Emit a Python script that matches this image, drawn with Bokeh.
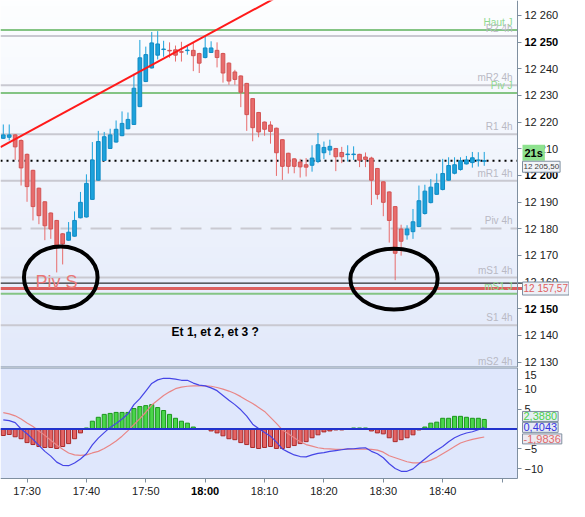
import numpy as np
from bokeh.plotting import figure
from bokeh.layouts import column
from bokeh.models import ColumnDataSource, FixedTicker, Label, Range1d
from bokeh.embed import file_html
from bokeh.resources import INLINE
from bokeh.core.properties import value

# ---------------- data ----------------
minutes = list(range(-4, 78))  # minutes after 17:30 (1-minute candles)
opens = [12213.9, 12214.3, 12215.2, 12213.1, 12207.9, 12201.9, 12195.2, 12190.1, 12185.9, 12183.1,
         12178.1, 12175.7, 12177.2, 12184.1, 12184.4, 12191.0, 12198.2, 12205.6, 12210.1, 12212.5,
         12214.9, 12217.5, 12219.1, 12225.8, 12235.2, 12240.3, 12245.1, 12247.2, 12246.9, 12247.1,
         12246.4, 12246.8, 12246.9, 12245.7, 12244.2, 12246.1, 12246.9, 12245.7, 12242.1, 12238.8,
         12237.3, 12234.5, 12228.8, 12223.6, 12220.0, 12218.9, 12217.7, 12213.4, 12208.3, 12206.2,
         12205.0, 12204.0, 12203.8, 12205.2, 12208.5, 12209.5, 12210.1, 12208.6, 12207.8, 12207.8,
         12207.9, 12206.9, 12206.5, 12202.6, 12197.6, 12193.8, 12188.3, 12179.9, 12177.7, 12178.9,
         12180.8, 12185.7, 12189.8, 12192.9, 12194.7, 12198.2, 12200.8, 12202.2, 12204.3, 12204.8,
         12205.5, 12205.3]
highs = [12219.1, 12219.1, 12215.5, 12213.5, 12208.2, 12202.1, 12195.4, 12190.3, 12186.1, 12183.3,
         12178.4, 12182.5, 12186.5, 12193.8, 12200.4, 12212.5, 12216.7, 12216.3, 12217.5, 12220.6,
         12224.0, 12223.6, 12238.1, 12250.8, 12248.3, 12253.8, 12254.1, 12250.5, 12249.9, 12248.7,
         12250.1, 12248.7, 12249.9, 12246.0, 12252.1, 12250.3, 12249.9, 12246.0, 12242.4, 12239.6,
         12237.5, 12234.7, 12229.0, 12223.8, 12220.2, 12220.3, 12217.9, 12213.6, 12208.5, 12206.4,
         12206.2, 12206.5, 12211.3, 12215.9, 12212.7, 12213.4, 12210.3, 12210.7, 12211.3, 12210.9,
         12208.1, 12208.6, 12207.0, 12202.8, 12197.8, 12194.0, 12188.5, 12181.5, 12181.3, 12187.4,
         12196.2, 12196.5, 12198.6, 12200.7, 12206.2, 12206.8, 12206.8, 12206.8, 12207.3, 12208.8,
         12208.7, 12208.8]
lows = [12213.7, 12213.1, 12205.8, 12196.2, 12190.1, 12183.1, 12181.7, 12175.7, 12176.2, 12163.6,
        12166.6, 12175.5, 12177.0, 12183.9, 12184.2, 12190.8, 12198.0, 12205.4, 12209.9, 12212.3,
        12214.7, 12217.3, 12218.9, 12225.6, 12235.0, 12240.1, 12243.5, 12244.5, 12244.1, 12242.7,
        12242.7, 12245.3, 12239.1, 12238.4, 12243.9, 12245.9, 12240.5, 12234.8, 12234.0, 12234.0,
        12225.6, 12216.7, 12212.8, 12214.3, 12214.9, 12211.9, 12199.8, 12198.3, 12200.7, 12200.8,
        12199.2, 12199.6, 12201.4, 12204.6, 12206.1, 12207.6, 12201.6, 12204.6, 12205.2, 12205.8,
        12203.1, 12203.1, 12188.9, 12191.0, 12184.7, 12174.8, 12160.7, 12169.9, 12175.9, 12176.2,
        12180.6, 12185.3, 12189.5, 12192.7, 12194.4, 12198.0, 12200.4, 12201.8, 12204.1, 12202.9,
        12203.3, 12203.6]
closes = [12215.2, 12215.2, 12210.7, 12202.8, 12195.8, 12188.3, 12184.9, 12181.1, 12179.9, 12173.8,
          12174.3, 12178.7, 12183.1, 12189.9, 12197.0, 12205.8, 12212.7, 12214.5, 12215.2, 12217.3,
          12219.5, 12221.0, 12232.7, 12244.1, 12245.3, 12249.7, 12249.3, 12247.4, 12246.7, 12245.1,
          12246.2, 12247.0, 12244.9, 12242.1, 12247.8, 12247.8, 12244.2, 12238.4, 12235.4, 12236.0,
          12231.2, 12222.8, 12217.9, 12216.3, 12217.3, 12216.5, 12208.5, 12203.4, 12203.4, 12203.4,
          12203.2, 12203.1, 12206.5, 12211.5, 12210.5, 12210.9, 12207.0, 12207.0, 12208.0, 12208.0,
          12205.7, 12206.0, 12198.2, 12192.9, 12189.9, 12183.1, 12170.8, 12175.3, 12179.9, 12182.6,
          12190.5, 12194.1, 12195.6, 12197.0, 12200.7, 12203.7, 12204.0, 12205.5, 12205.8, 12206.6,
          12205.8, 12205.5]

hist = [-1.63, -1.38, -1.95, -2.44, -3.41, -3.90, -4.39, -4.63, -4.63, -4.88,
        -4.39, -3.66, -2.44, -0.98, 0.24, 1.95, 2.93, 3.66, 3.90, 4.15,
        4.15, 4.15, 5.12, 5.61, 5.85, 6.10, 5.37, 4.63, 3.66, 2.68,
        1.95, 1.46, 0.49, 0.0, 0.0, -0.49, -0.98, -1.71, -2.44, -2.68,
        -3.41, -3.90, -4.63, -4.88, -4.63, -4.39, -4.88, -4.88, -4.63, -4.15,
        -3.66, -3.17, -2.20, -1.46, -0.73, -0.49, -0.24, -0.24, 0.0, 0.24,
        0.24, 0.24, -0.49, -0.98, -1.22, -2.20, -3.17, -2.68, -2.20, -1.46,
        -0.24, 0.49, 1.46, 1.71, 2.68, 2.68, 3.17, 3.17, 2.93, 2.68,
        2.68, 2.39]
macd = [2.3, 2.1, 1.6, 0.0, -1.2, -2.6, -4.1, -5.6, -6.8, -8.3,
        -9.1, -9.2, -8.5, -7.5, -6.2, -4.0, -2.3, -0.9, 0.4, 1.4,
        2.5, 3.8, 6.1, 7.6, 9.5, 11.4, 12.3, 12.7, 12.7, 12.5,
        12.2, 12.2, 11.5, 11.0, 10.8, 10.3, 9.6, 8.4, 7.2, 6.1,
        4.8, 3.2, 1.2, 0.1, -0.9, -1.8, -3.3, -5.0, -5.8, -6.5,
        -6.9, -7.0, -6.5, -6.1, -5.9, -5.6, -5.4, -5.2, -5.0, -4.95,
        -4.8, -4.7, -5.6, -6.2, -7.2, -8.7, -9.9, -10.6, -10.6, -10.0,
        -8.7, -7.5, -6.3, -5.3, -4.4, -3.2, -2.2, -1.5, -1.0, -0.7,
        -0.2, 0.4]
signal = [4.1, 3.8, 3.3, 2.5, 1.5, 0.6, -0.5, -1.6, -2.8, -4.0,
          -5.1, -6.0, -6.5, -6.6, -6.5, -6.0, -5.6, -4.9, -4.0, -3.0,
          -1.8, -0.4, 1.1, 2.6, 4.2, 6.0, 7.2, 8.4, 9.3, 10.1,
          10.5, 10.7, 10.8, 10.8, 10.8, 10.7, 10.4, 10.0, 9.5, 8.9,
          8.1, 7.2, 6.4, 5.4, 4.4, 2.9, 1.4, -0.2, -1.2, -2.2,
          -3.2, -3.9, -4.3, -4.7, -4.9, -5.0, -5.1, -5.1, -5.05, -5.05,
          -5.05, -5.05, -5.1, -5.3, -5.8, -6.7, -7.2, -7.7, -8.2, -8.5,
          -8.5, -8.3, -7.8, -7.1, -6.2, -5.3, -4.4, -3.5, -3.0, -2.6,
          -2.3, -2.0]

price_ticks = [12130, 12140, 12150, 12160, 12170, 12180, 12190, 12200, 12210,
               12220, 12230, 12240, 12250, 12260]
bold_price_ticks = [12150, 12200, 12250]
time_ticks = [0, 10, 20, 30, 40, 50, 60, 70, 80]
time_labels = ["17:30", "17:40", "17:50", "18:00", "18:10", "18:20", "18:30", "18:40", ""]
bold_time_ticks = [30]
macd_ticks = [10, 5, -5, -10]
macd_top_label = 15

level_names = ["Haut J", "R2 4h", "mR2 4h", "Piv J", "R1 4h", "mR1 4h", "Piv 4h",
               "mS1 4h", "mS1 J", "S1 4h", "mS2 4h"]
level_values = [12254.5, 12252.3, 12233.8, 12230.9, 12215.4, 12198.0, 12180.1,
                12161.7, 12155.6, 12143.8, 12127.2]
level_is_daily = [True, False, False, True, False, False, False, False, True, False, False]
level_dashed = [False, False, False, False, False, False, True, False, False, False, False]

last_price = 12205.5
red_level = 12157.57
black_level = 12159.6
trend_x = [-4.47, 45.0]
trend_y = [12210.6, 12270.4]
circle_x = [5.68, 61.8]
circle_y = [12161.75, 12161.1]
circle_w = [12.4, 14.7]
circle_h = [23.2, 22.8]
note_piv_x, note_piv_y = 1.42, 12159.9
note_q_x, note_q_y = 31.7, 12141.3
hist_value, macd_value, signal_value = 2.3880, 0.4043, -1.9836

# ---------------- layout ----------------
W, H_P, H_M = 569, 367, 133
X0, X1 = -4.47, 82.6            # plotting area (frame of the original chart)
PXM = 517 / (X1 - X0)           # pixels per minute
XR = X0 + W / PXM               # includes the right scale area
Y0, Y1 = 12127.95, 12265.6
M0, M1 = -12.4, 15.4
PXU = 111 / (M1 - M0)
MB = M0 - 22 / PXU              # includes the time scale area
FONT = "Liberation Sans"
AXC = "#7f8fa0"
DX = 1 / PXM                    # one pixel in minutes

p = figure(width=W, height=H_P, x_range=Range1d(X0, XR), y_range=Range1d(Y0, Y1),
           output_backend="svg", toolbar_location=None, x_axis_location=None,
           y_axis_location="right", min_border=0, background_fill_color="#ffffff")
p.outline_line_color = None
p.grid.visible = False

# vertical background gradient of the price pane
n = 64
img = np.empty((n, 1), dtype=np.uint32)
view = img.view(dtype=np.uint8).reshape((n, 1, 4))
frac = np.linspace(0, 1, n)[:, None]
c_bot = np.array([226, 233, 250.0])
c_top = np.array([253, 254, 255.0])
view[:, 0, :3] = (c_bot + (c_top - c_bot) * frac).astype(np.uint8)
view[:, 0, 3] = 255
p.image_rgba(image=[img], x=X0, y=Y0, dw=X1 - X0, dh=Y1 - Y0, level="image")

# level lines
for name, v, daily, dashed in zip(level_names, level_values, level_is_daily, level_dashed):
    col = "#84c484" if daily else "#c9c9d1"
    p.segment(x0=[X0], y0=[v], x1=[X1], y1=[v], line_color=col, line_width=2,
              line_dash="21 9" if dashed else "solid")
p.segment(x0=[X0], y0=[black_level], x1=[X1 + 5 * DX], y1=[black_level],
          line_color="#000000", line_width=1)
p.segment(x0=[X0], y0=[red_level], x1=[X1 + 5 * DX], y1=[red_level],
          line_color="#dc5f5f", line_width=3)
p.segment(x0=[X0], y0=[last_price], x1=[X1], y1=[last_price],
          line_color="#000000", line_width=2, line_dash="2 4")
p.segment(x0=[X0], y0=[Y0], x1=[X1], y1=[Y0], line_color=AXC, line_width=2)

lab_src = ColumnDataSource(dict(
    x=[X1 - 5 * DX] * len(level_names), y=level_values, text=level_names,
    color=["#8fd88f" if d else "#b9b9c4" for d in level_is_daily]))
p.text(x="x", y="y", text="text", source=lab_src, text_color="color",
       text_font=value(FONT), text_font_size="10px", text_align="right",
       text_baseline="bottom", y_offset=-2)

p.text(x=[note_piv_x], y=[note_piv_y], text=["Piv S"], text_color="#e87878",
       text_font=value(FONT), text_font_size="18px", text_align="left",
       text_baseline="alphabetic")

# candles
up = [c >= o for o, c in zip(opens, closes)]
src = ColumnDataSource(dict(
    m=minutes, h=highs, l=lows,
    top=[max(o, c) for o, c in zip(opens, closes)],
    bottom=[min(o, c) for o, c in zip(opens, closes)],
    fill=["#1ca2dc" if u else "#e86c6c" for u in up],
    line=["#128bc4" if u else "#d25454" for u in up]))
p.segment(x0="m", y0="l", x1="m", y1="h", line_color="fill", line_width=1, source=src)
p.vbar(x="m", width=0.62, top="top", bottom="bottom", fill_color="fill",
       line_color="line", line_width=1, source=src)

p.line(trend_x, trend_y, line_color="#ff1a1a", line_width=2)
p.ellipse(x=circle_x, y=circle_y, width=circle_w, height=circle_h,
          fill_color=None, line_color="#000000", line_width=4)
p.text(x=[note_q_x], y=[note_q_y], text=["Et 1, et 2, et 3 ?"], text_color="#000000",
       text_font=value(FONT), text_font_size="12px", text_font_style="bold",
       text_align="center", text_baseline="middle")

# price scale (axis drawn at the right edge of the chart pane)
ya = p.yaxis[0]
ya.fixed_location = X1
ya.bounds = (Y0, Y1)
ya.ticker = FixedTicker(ticks=price_ticks)
ya.major_label_overrides = {t: ("" if t in bold_price_ticks else
                                f"{t // 1000} {t % 1000:03d}") for t in price_ticks}
ya.axis_line_color = AXC
ya.major_tick_line_color = AXC
ya.major_tick_out = 4
ya.major_tick_in = 0
ya.minor_tick_line_color = None
ya.major_label_standoff = 3
ya.major_label_text_font = FONT
ya.major_label_text_font_size = "11px"
ya.major_label_text_color = "#202020"

for t in bold_price_ticks:
    p.add_layout(Label(x=X1, y=t, x_offset=7, text=f"{t // 1000} {t % 1000:03d}",
                       text_font=FONT, text_font_size="11px", text_font_style="bold",
                       text_color="#000000", text_align="left", text_baseline="middle"))

p.add_layout(Label(x=X1, y=last_price, x_offset=5, y_offset=8, text="21s",
                   text_font=FONT, text_font_size="11px", text_font_style="bold",
                   text_color="#000000", text_align="left", text_baseline="middle",
                   background_fill_color="#8ee28e", padding=2))
p.add_layout(Label(x=X1, y=last_price, x_offset=5, y_offset=-6, text="12 205,50",
                   text_font=FONT, text_font_size="8px", text_color="#404040",
                   text_align="left", text_baseline="middle",
                   background_fill_color="#f2f4f8", border_line_color=AXC, padding=1))
p.add_layout(Label(x=X1, y=red_level, x_offset=5, text="12 157,57",
                   text_font=FONT, text_font_size="10px", text_color="#e06060",
                   text_align="left", text_baseline="middle",
                   background_fill_color="#eef1f7", border_line_color=AXC, padding=1))

# ---------------- MACD pane ----------------
q = figure(width=W, height=H_M, x_range=p.x_range, y_range=Range1d(MB, M1),
           output_backend="svg", toolbar_location=None, y_axis_location="right",
           min_border=0, background_fill_color="#ffffff")
q.outline_line_color = None
q.grid.visible = False

q.quad(left=[X0], right=[X1], bottom=[M0], top=[M1], fill_color="#dfe7fc",
       line_color=None, level="image")

hsrc = ColumnDataSource(dict(
    m=minutes, h=hist,
    fill=["#4ad64a" if v > 0 else "#e46464" for v in hist],
    line=["#1a961a" if v > 0 else "#a82a2a" for v in hist]))
q.vbar(x="m", width=0.68, top="h", bottom=0, fill_color="fill", line_color="line",
       line_width=1, source=hsrc)
q.line(minutes, signal, line_color="#e98686", line_width=1.2)
q.line(minutes, macd, line_color="#4545e6", line_width=1.2)
q.segment(x0=[X0], y0=[0], x1=[X1], y1=[0], line_color="#2233cc", line_width=2)
q.segment(x0=[X0], y0=[M1], x1=[X1], y1=[M1], line_color=AXC, line_width=2)

qa = q.yaxis[0]
qa.fixed_location = X1
qa.bounds = (M0, M1)
qa.ticker = FixedTicker(ticks=macd_ticks)
qa.axis_line_color = AXC
qa.major_tick_line_color = AXC
qa.major_tick_out = 4
qa.major_tick_in = 0
qa.minor_tick_line_color = None
qa.major_label_standoff = 3
qa.major_label_text_font = FONT
qa.major_label_text_font_size = "11px"
qa.major_label_text_color = "#202020"
q.add_layout(Label(x=X1, y=M1, x_offset=7, y_offset=-7, text=str(macd_top_label),
                   text_font=FONT, text_font_size="11px", text_color="#202020",
                   text_align="left", text_baseline="middle"))

xa = q.xaxis[0]
xa.fixed_location = M0
xa.bounds = (X0, X1)
xa.ticker = FixedTicker(ticks=time_ticks)
xa.major_label_overrides = {t: ("" if t in bold_time_ticks else lab)
                            for t, lab in zip(time_ticks, time_labels)}
xa.axis_line_color = AXC
xa.major_tick_line_color = AXC
xa.major_tick_out = 4
xa.major_tick_in = 0
xa.minor_tick_line_color = None
xa.major_label_standoff = 2
xa.major_label_text_font = FONT
xa.major_label_text_font_size = "11px"
xa.major_label_text_color = "#202020"
for t in bold_time_ticks:
    q.add_layout(Label(x=t, y=M0, y_offset=-6, text=time_labels[time_ticks.index(t)],
                       text_font=FONT, text_font_size="11px", text_font_style="bold",
                       text_color="#000000", text_align="center", text_baseline="top"))

q.add_layout(Label(x=X1, y=hist_value, x_offset=5, y_offset=3, text="2,3880",
                   text_font=FONT, text_font_size="11px", text_color="#4cd04c",
                   text_align="left", text_baseline="middle",
                   background_fill_color="#e6eef2", border_line_color=AXC, padding=1))
q.add_layout(Label(x=X1, y=macd_value, x_offset=5, y_offset=0, text="0,4043",
                   text_font=FONT, text_font_size="11px", text_color="#3535e0",
                   text_align="left", text_baseline="middle",
                   background_fill_color="#e6eaf4", border_line_color=AXC, padding=1))
q.add_layout(Label(x=X1, y=signal_value, x_offset=5, y_offset=-2, text="-1,9836",
                   text_font=FONT, text_font_size="11px", text_color="#e06868",
                   text_align="left", text_baseline="middle",
                   background_fill_color="#eeeaf0", border_line_color=AXC, padding=1))

layout = column(p, q, spacing=0)
open("out.html", "w").write(file_html(layout, INLINE))
